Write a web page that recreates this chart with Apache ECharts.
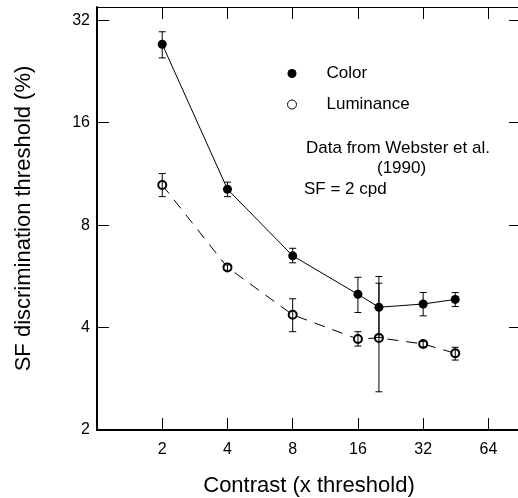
<!DOCTYPE html>
<html>
<head>
<meta charset="utf-8">
<script src="https://cdn.jsdelivr.net/npm/echarts@6/dist/echarts.min.js"></script>
<style>
  html, body { margin: 0; padding: 0; background: #fff; }
  #main { width: 518px; height: 498px; }
</style>
</head>
<body>
<div id="main"></div>
<script>
// contrast (x threshold)
const contrast = [2, 4, 8, 16, 20, 32, 45]
// color thresholds (%)
const colorMean = [27.2, 10.2, 6.5, 5.01, 4.59, 4.69, 4.84]
const colorLow = [24.8, 9.7, 6.2, 4.43, 3.74, 4.33, 4.61]
const colorHigh = [29.6, 10.7, 6.84, 5.62, 5.65, 5.07, 5.07]
// luminance thresholds (%)
const lumMean = [10.5, 6.01, 4.36, 3.70, 3.73, 3.58, 3.36]
const lumLow = [9.7, 5.89, 3.89, 3.53, 2.59, 3.51, 3.21]
const lumHigh = [11.34, 6.11, 4.86, 3.89, 5.40, 3.64, 3.50]
// tick labels
const xTicks = [2, 4, 8, 16, 32, 64]
const yTicks = [2, 4, 8, 16, 32]

const FONT = '"Liberation Sans", Arial, Helvetica, sans-serif'

function tickLabel(list) {
  return function (v) {
    let r = Math.round(v)
    return (Math.abs(v - r) < 1e-6 && list.indexOf(r) >= 0) ? String(r) : ''
  }
}

function renderErrorBar(params, api) {
  const x = api.value(0)
  const top = api.coord([x, api.value(2)])
  const bot = api.coord([x, api.value(1)])
  const half = 3.5
  const style = { stroke: '#000', lineWidth: 1, fill: null }
  return {
    type: 'group',
    children: [
      { type: 'line', shape: { x1: top[0], y1: top[1], x2: bot[0], y2: bot[1] }, style: style },
      { type: 'line', shape: { x1: top[0] - half, y1: top[1], x2: top[0] + half, y2: top[1] }, style: style },
      { type: 'line', shape: { x1: bot[0] - half, y1: bot[1], x2: bot[0] + half, y2: bot[1] }, style: style }
    ]
  }
}

const chart = echarts.init(document.getElementById('main'))

const tickStyle = { inside: true, length: 12, lineStyle: { color: '#000', width: 1 } }

const option = {
  animation: false,
  backgroundColor: '#fff',
  grid: { left: 97, top: 7, right: -3, bottom: 68, containLabel: false, outerBoundsMode: 'none' },
  legend: {
    orient: 'vertical',
    left: 287,
    top: 65,
    padding: 0,
    itemWidth: 9,
    itemHeight: 9,
    itemGap: 14,
    icon: 'circle',
    textStyle: { fontSize: 17, fontFamily: FONT, color: '#000', padding: [0, 0, 0, 25] },
    data: [
      { name: 'Color', itemStyle: { color: '#000' } },
      { name: 'Luminance', itemStyle: { color: '#fff', borderColor: '#000', borderWidth: 1 } }
    ]
  },
  graphic: [
    { type: 'text', left: 306, top: 139.5, style: { text: 'Data from Webster et al.', font: '17px ' + FONT, fill: '#000' } },
    { type: 'text', left: 377, top: 160, style: { text: '(1990)', font: '17px ' + FONT, fill: '#000' } },
    { type: 'text', left: 304, top: 181, style: { text: 'SF = 2 cpd', font: '17px ' + FONT, fill: '#000' } }
  ],
  xAxis: [
    {
      type: 'log', logBase: 2, min: 1, max: 90.5, interval: 1, position: 'bottom',
      axisLine: { lineStyle: { color: '#000', width: 2 } },
      axisTick: tickStyle,
      axisLabel: { formatter: tickLabel(xTicks), color: '#000', fontSize: 16, fontFamily: FONT, margin: 12 },
      splitLine: { show: false },
      name: 'Contrast (x threshold)', nameLocation: 'middle', nameGap: 45,
      nameTextStyle: { fontSize: 22, fontFamily: FONT, color: '#000' }
    },
    {
      type: 'log', logBase: 2, min: 1, max: 90.5, interval: 1, position: 'top',
      axisLine: { lineStyle: { color: '#000', width: 1 } },
      axisTick: tickStyle,
      axisLabel: { show: false },
      splitLine: { show: false }
    }
  ],
  yAxis: [
    {
      type: 'log', logBase: 2, min: 2, max: 35, interval: 1, position: 'left',
      axisLine: { lineStyle: { color: '#000', width: 2 } },
      axisTick: tickStyle,
      axisLabel: { formatter: tickLabel(yTicks), color: '#000', fontSize: 16, fontFamily: FONT, margin: 7 },
      splitLine: { show: false },
      name: 'SF discrimination threshold (%)', nameLocation: 'middle', nameGap: 62,
      nameTextStyle: { fontSize: 22, fontFamily: FONT, color: '#000' }
    },
    {
      type: 'log', logBase: 2, min: 2, max: 35, interval: 1, position: 'right',
      axisLine: { lineStyle: { color: '#000', width: 1 } },
      axisTick: tickStyle,
      axisLabel: { show: false },
      splitLine: { show: false }
    }
  ],
  series: [
    {
      name: 'Color',
      type: 'line',
      data: contrast.map((c, i) => [c, colorMean[i]]),
      symbol: 'circle',
      symbolSize: 9,
      itemStyle: { color: '#000' },
      lineStyle: { color: '#000', width: 1 },
      z: 2
    },
    {
      name: 'Luminance',
      type: 'line',
      data: contrast.map((c, i) => [c, lumMean[i]]),
      symbol: 'emptyCircle',
      symbolSize: 8,
      itemStyle: { color: '#000', borderWidth: 1 },
      lineStyle: { color: '#000', width: 1, type: [11, 8] },
      z: 2
    },
    {
      name: 'Color error',
      type: 'custom',
      renderItem: renderErrorBar,
      data: contrast.map((c, i) => [c, colorLow[i], colorHigh[i]]),
      encode: { x: 0, y: [1, 2] },
      z: 3
    },
    {
      name: 'Luminance error',
      type: 'custom',
      renderItem: renderErrorBar,
      data: contrast.map((c, i) => [c, lumLow[i], lumHigh[i]]),
      encode: { x: 0, y: [1, 2] },
      z: 3
    }
  ]
}

chart.setOption(option)
</script>
</body>
</html>
